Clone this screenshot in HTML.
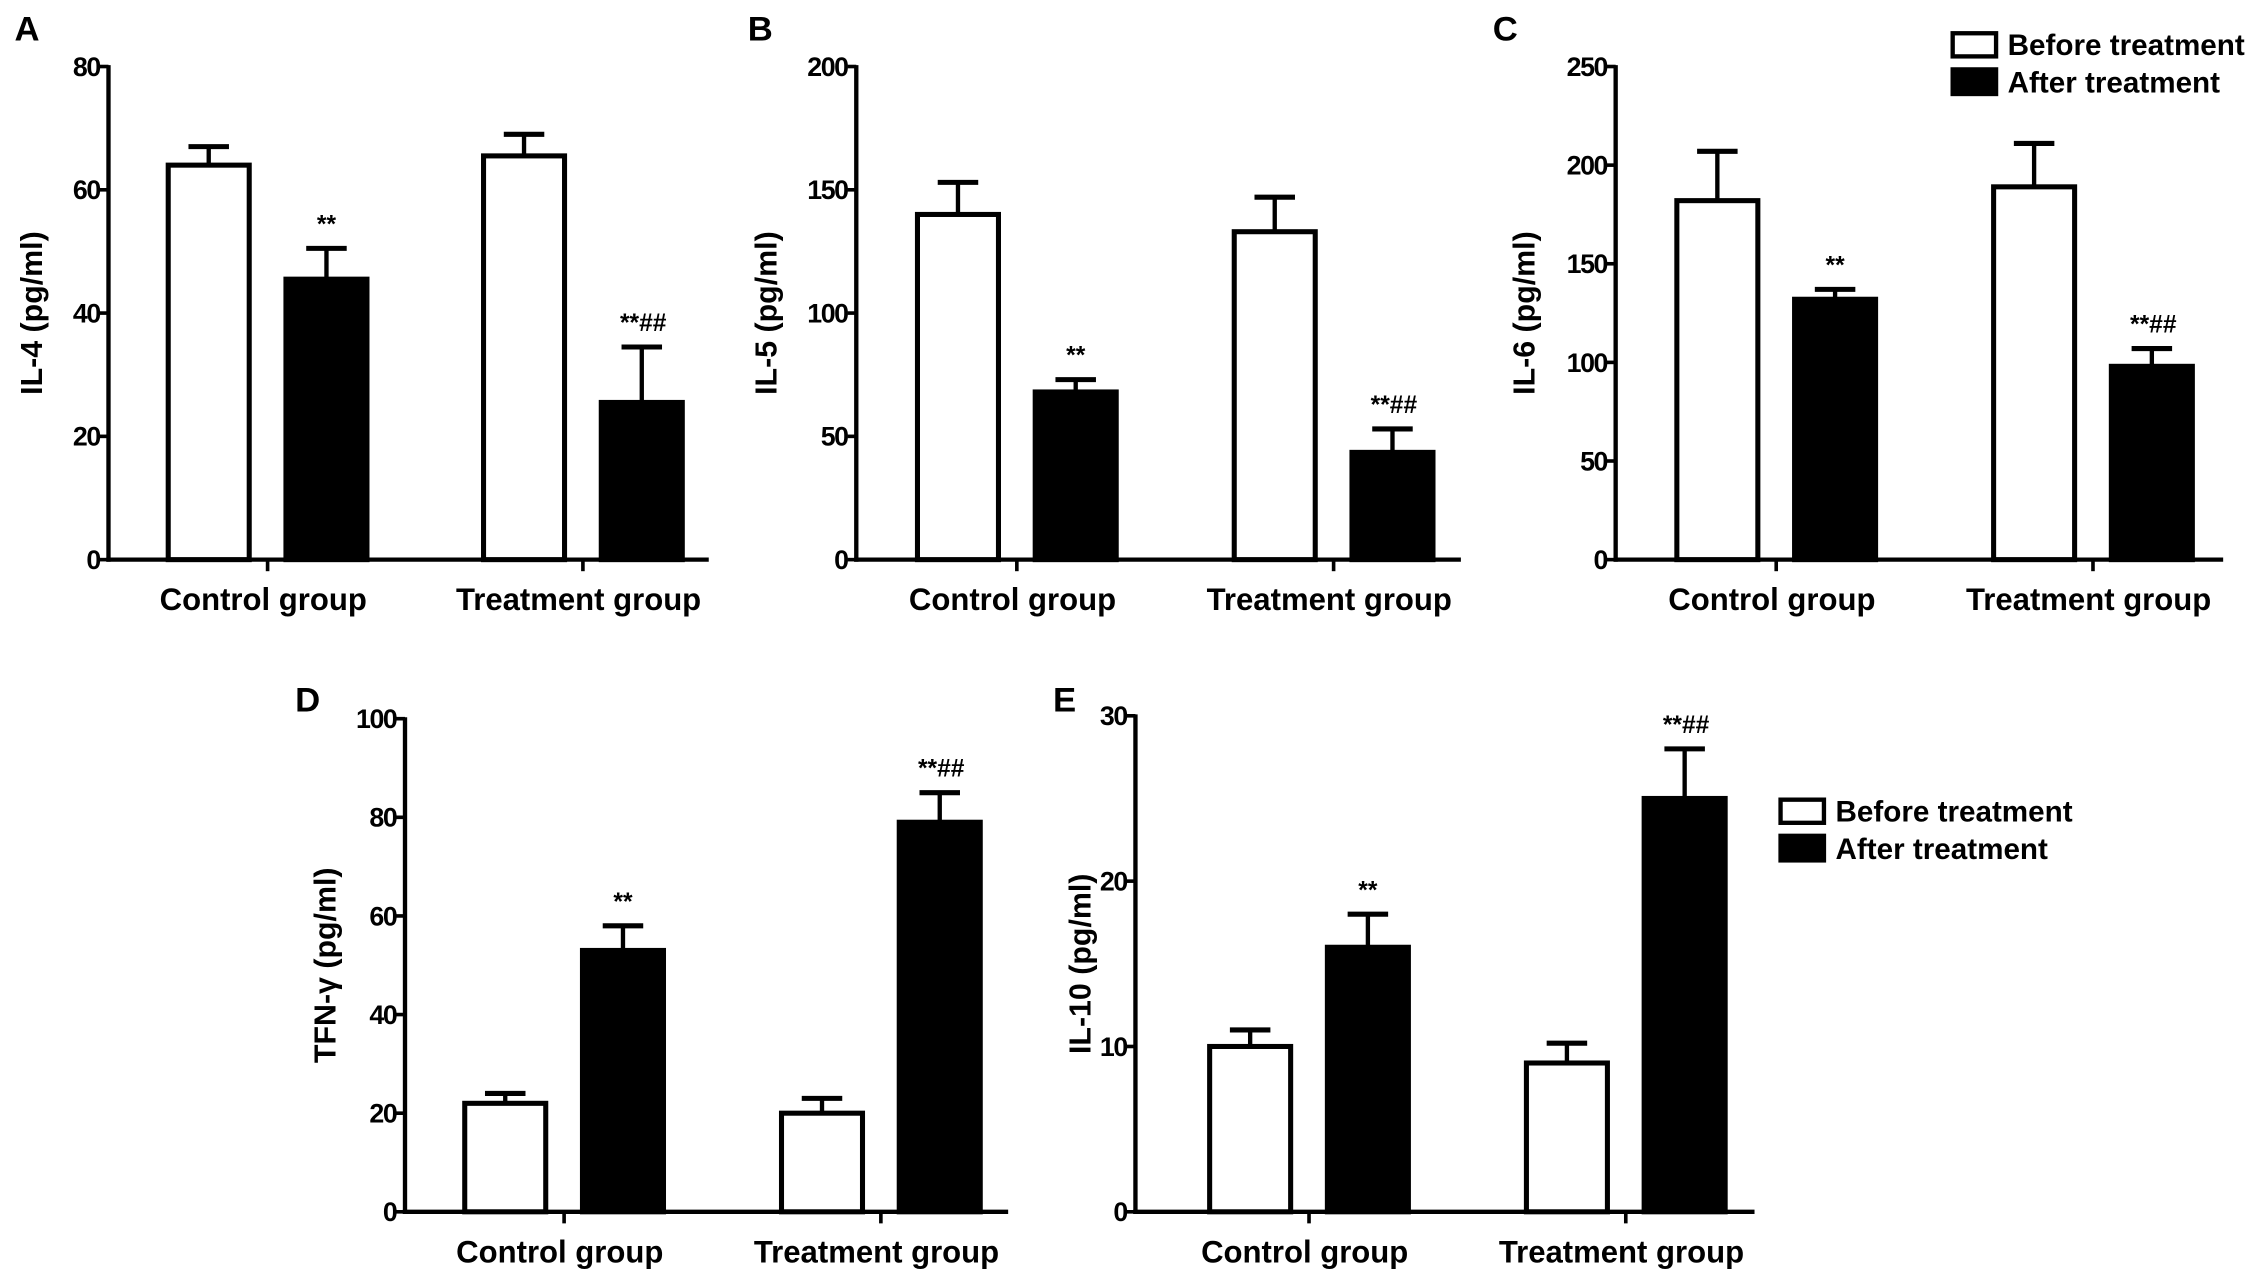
<!DOCTYPE html>
<html><head><meta charset="utf-8"><style>
html,body{margin:0;padding:0;background:#fff;}
svg{display:block;}
text{font-family:"Liberation Sans",Arial,sans-serif;font-weight:bold;fill:#000;}
</style></head><body>
<svg id="fig" width="2268" height="1287" viewBox="0 0 1568 890" preserveAspectRatio="none" xmlns="http://www.w3.org/2000/svg"></svg>
<script>
// ---- data ----
const categories = ["Control group", "Treatment group"];
const il4Before = [64, 65.5];
const il4BeforeErr = [3, 3.5];
const il4After = [45.5, 25.5];
const il4AfterErr = [5, 9];
const il4Marks = ["**", "**##"];
const il5Before = [140, 133];
const il5BeforeErr = [13, 14];
const il5After = [68, 43.5];
const il5AfterErr = [5, 9.5];
const il5Marks = ["**", "**##"];
const il6Before = [182, 189];
const il6BeforeErr = [25, 22];
const il6After = [132, 98];
const il6AfterErr = [5, 9];
const il6Marks = ["**", "**##"];
const ifnBefore = [22, 20];
const ifnBeforeErr = [2, 3];
const ifnAfter = [53, 79];
const ifnAfterErr = [5, 6];
const ifnMarks = ["**", "**##"];
const il10Before = [10, 9];
const il10BeforeErr = [1, 1.2];
const il10After = [16, 25];
const il10AfterErr = [2, 3];
const il10Marks = ["**", "**##"];
const ticksA = [0, 20, 40, 60, 80];
const ticksB = [0, 50, 100, 150, 200];
const ticksC = [0, 50, 100, 150, 200, 250];
const ticksD = [0, 20, 40, 60, 80, 100];
const ticksE = [0, 10, 20, 30];

// ---- layout ----
const svg = document.getElementById('fig');
const NS = "http://www.w3.org/2000/svg";
function mk(tag, attrs, parent) {
  const e = document.createElementNS(NS, tag);
  for (const k in attrs) e.setAttribute(k, attrs[k]);
  (parent || svg).appendChild(e);
  return e;
}
const panels = [
  {id:'a', letter:'A', lx:10, ly:28, title:'IL-4 (pg/ml)', x0:75, xEnd:490, y0:387, yTop:46, max:80, ticks:ticksA, centers:[185,403],
   before:il4Before, beforeErr:il4BeforeErr, after:il4After, afterErr:il4AfterErr, marks:il4Marks, titleX:22},
  {id:'b', letter:'B', lx:517, ly:28, title:'IL-5 (pg/ml)', x0:592, xEnd:1010, y0:387, yTop:46, max:200, ticks:ticksB, centers:[703,922],
   before:il5Before, beforeErr:il5BeforeErr, after:il5After, afterErr:il5AfterErr, marks:il5Marks, titleX:530},
  {id:'c', letter:'C', lx:1032, ly:28, title:'IL-6 (pg/ml)', x0:1117, xEnd:1537, y0:387, yTop:46, max:250, ticks:ticksC, centers:[1228,1447],
   before:il6Before, beforeErr:il6BeforeErr, after:il6After, afterErr:il6AfterErr, marks:il6Marks, titleX:1054},
  {id:'d', letter:'D', lx:204, ly:492, title:'TFN-γ (pg/ml)', x0:280, xEnd:697, y0:838, yTop:497, max:100, ticks:ticksD, centers:[390,609],
   before:ifnBefore, beforeErr:ifnBeforeErr, after:ifnAfter, afterErr:ifnAfterErr, marks:ifnMarks, titleX:225},
  {id:'e', letter:'E', lx:728, ly:492, title:'IL-10 (pg/ml)', x0:785, xEnd:1213, y0:838, yTop:495, max:30, ticks:ticksE, centers:[905,1124],
   before:il10Before, beforeErr:il10BeforeErr, after:il10After, afterErr:il10AfterErr, marks:il10Marks, titleX:747}
];
const BW = 56, OFF = 40.7;

panels.forEach(p => {
  const g = mk('g', {});
  
  
  const y = v => p.y0 - (v / p.max) * (p.y0 - p.yTop);
  const xb = (i, s) => p.centers[i] + s * OFF;

  const L = mk('text', {x:p.lx, y:p.ly, 'font-size':24}, g);
  L.textContent = p.letter;
  
  

  const yAxis = mk('line', {x1:p.x0, y1:p.yTop - 1, x2:p.x0, y2:p.y0 + 1.5, stroke:'#000', 'stroke-width':3}, g);
  
  
  const xAxis = mk('line', {x1:p.x0 - 1.5, y1:p.y0, x2:p.xEnd, y2:p.y0, stroke:'#000', 'stroke-width':3}, g);
  
  

  p.ticks.forEach(t => {
    mk('line', {x1:p.x0 - 6, y1:y(t), x2:p.x0, y2:y(t), stroke:'#000', 'stroke-width':2.5}, g);
    const tl = mk('text', {x:p.x0 - 6, y:y(t) + 6.5, 'font-size':18.5, 'text-anchor':'end', 'letter-spacing':-1}, g);
    tl.textContent = t;
    
    
  });

  const cy = (p.y0 + p.yTop) / 2;
  const tt = mk('text', {x:p.titleX, y:cy, 'font-size':21, 'text-anchor':'middle', transform:`rotate(-90 ${p.titleX} ${cy})`, dy:7}, g);
  tt.textContent = p.title;
  
  

  categories.forEach((c, i) => {
    mk('line', {x1:p.centers[i], y1:p.y0, x2:p.centers[i], y2:p.y0 + 8, stroke:'#000', 'stroke-width':2.5}, g);
    const cl = mk('text', {x:p.centers[i] - 3, y:p.y0 + 35, 'font-size':21.5, 'text-anchor':'middle'}, g);
    cl.textContent = c;
    
    

    const vb = p.before[i], eb = p.beforeErr[i];
    const cxB = xb(i, -1);
    mk('line', {x1:cxB, y1:y(vb), x2:cxB, y2:y(vb + eb), stroke:'#000', 'stroke-width':3}, g);
    mk('line', {x1:cxB - 14, y1:y(vb + eb), x2:cxB + 14, y2:y(vb + eb), stroke:'#000', 'stroke-width':3.5}, g);
    const rb = mk('rect', {x:cxB - BW/2, y:y(vb), width:BW, height:p.y0 - y(vb), fill:'#fff', stroke:'#000', 'stroke-width':3.5}, g);
    
    

    const va = p.after[i], ea = p.afterErr[i];
    const cxA = xb(i, 1);
    mk('line', {x1:cxA, y1:y(va), x2:cxA, y2:y(va + ea), stroke:'#000', 'stroke-width':3}, g);
    mk('line', {x1:cxA - 14, y1:y(va + ea), x2:cxA + 14, y2:y(va + ea), stroke:'#000', 'stroke-width':3.5}, g);
    const ra = mk('rect', {x:cxA - BW/2, y:y(va), width:BW, height:p.y0 - y(va), fill:'#000', stroke:'#000', 'stroke-width':3.5}, g);
    
    

    const m = mk('text', {x:cxA + (p.marks[i].length > 2 ? 1 : 0), y:y(va + ea) - 11, 'font-size':17, 'text-anchor':'middle'}, g);
    m.textContent = p.marks[i];
    
    
  });
});

function legend(x, y, name) {
  const g = mk('g', {});
  
  
  mk('rect', {x:x, y:y, width:30, height:16, fill:'#fff', stroke:'#000', 'stroke-width':3}, g);
  const t1 = mk('text', {x:x + 38, y:y + 15, 'font-size':20.5}, g);
  t1.textContent = 'Before treatment';
  
  
  mk('rect', {x:x, y:y + 25, width:30, height:17, fill:'#000', stroke:'#000', 'stroke-width':3}, g);
  const t2 = mk('text', {x:x + 38, y:y + 41, 'font-size':20.5}, g);
  t2.textContent = 'After treatment';
  
  
}
legend(1350, 23, 'legend-top');
legend(1231, 553, 'legend-bottom');
</script>
</body></html>
